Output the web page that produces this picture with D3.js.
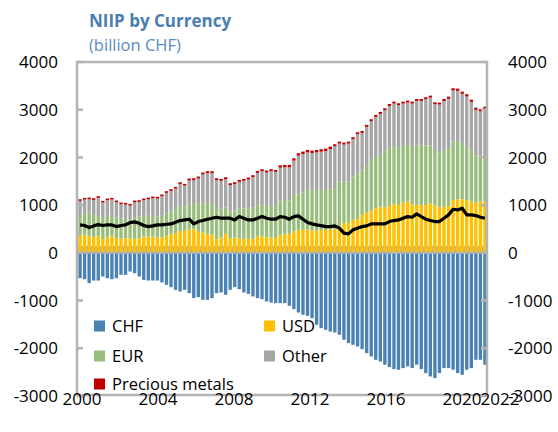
<!DOCTYPE html>
<html>
<head>
<meta charset="utf-8">
<script src="https://cdn.jsdelivr.net/npm/d3@7/dist/d3.min.js"></script>
<style>
  html, body { margin: 0; padding: 0; background: #fff; }
  svg { display: block; font-family: 'Open Sans', 'Noto Sans', sans-serif; }
</style>
</head>
<body>
<svg id="chart" width="558" height="432"></svg>
<script>
// Net international investment position by currency, quarterly, billion CHF
const startYear = 2000;
const nQuarters = 90;
const quarters = [];
for (let i = 0; i < nQuarters; i++) {
  quarters.push((startYear + Math.floor(i / 4)) + "Q" + (i % 4 + 1));
}

const usd = [356,377,356,328,356,286,328,356,307,307,307,300,293,307,342,342,342,321,321,356,391,412,
  461,461,496,496,440,426,398,377,286,321,398,307,321,307,293,293,293,342,356,328,321,314,377,
  398,398,447,482,482,496,468,468,482,482,496,496,565,621,635,691,705,796,845,886,935,970,949,
  984,1026,1005,1054,1075,1019,1005,1005,1005,1040,1005,949,970,984,1110,1124,1124,1110,1075,1054,1075,1075];

const eur = [440,454,489,468,419,440,447,461,440,419,405,405,454,454,433,433,433,440,454,475,475,502,
  523,509,530,530,579,642,642,649,635,600,558,558,565,628,642,635,663,677,649,642,684,691,719,
  712,698,768,768,782,823,837,851,837,837,838,859,929,852,859,908,964,928,977,1062,1096,1103,1194,
  1208,1215,1187,1187,1187,1222,1264,1250,1250,1215,1152,1152,1187,1201,1221,1221,1159,1131,1096,984,942,908];

const other = [293,286,278,314,377,328,328,300,314,293,300,286,314,307,328,348,370,377,412,426,433,433,
  461,440,491,497,540,575,631,645,602,589,589,554,554,554,575,610,631,658,708,714,708,693,690,
  683,697,718,788,808,788,788,788,802,816,843,881,797,797,797,784,818,791,819,812,819,840,847,
  888,888,903,888,888,888,916,930,966,1000,959,1007,1023,1044,1073,1051,1050,1037,995,960,947,1036];

const metals = [35,35,35,35,35,35,35,35,35,35,35,35,35,35,35,35,35,35,35,35,35,35,
  35,35,40,40,40,40,40,40,40,40,40,40,40,40,40,40,40,40,40,40,40,40,50,
  50,50,50,50,50,50,50,50,50,50,50,40,40,40,40,40,40,40,40,40,40,40,40,
  40,40,40,40,40,40,40,40,40,40,40,40,45,45,45,45,45,45,45,45,45,45];

const chf = [-531,-552,-635,-580,-580,-496,-531,-552,-531,-461,-461,-391,-426,-496,-566,-580,-580,-580,-621,-670,-719,-775,
  -810,-775,-845,-949,-928,-984,-984,-949,-845,-831,-880,-775,-719,-761,-831,-859,-914,-949,-970,-1019,-1040,-1054,-1054,
  -1054,-1110,-1180,-1250,-1298,-1320,-1369,-1508,-1578,-1613,-1648,-1669,-1717,-1822,-1892,-1927,-1962,-2017,-2101,-2171,-2241,-2276,-2345,
  -2394,-2436,-2450,-2415,-2380,-2415,-2345,-2436,-2520,-2590,-2625,-2520,-2415,-2415,-2450,-2520,-2555,-2450,-2415,-2241,-2241,-2345];

const niip = [586,573,531,565,593,573,586,586,551,573,586,635,649,621,573,551,565,586,586,600,607,640,
  677,691,705,607,656,677,705,726,747,726,726,726,691,761,726,691,691,726,761,726,705,705,761,
  747,705,761,775,705,635,607,586,572,551,551,565,517,412,398,482,517,551,565,607,607,607,607,
  656,677,691,726,761,747,817,761,705,677,656,656,726,796,914,900,935,796,796,782,747,726];

const yTicks = [-3000,-2000,-1000,0,1000,2000,3000,4000];
const yearTicks = [2000,2004,2008,2012,2016,2020,2022];

const seriesKeys = ["CHF","USD","EUR","Other","Metals"];
const colors = { CHF: "#4a82b4", USD: "#ffc000", EUR: "#99bd7c", Other: "#a6a6a6", Metals: "#c00000" };
const legendItems = [
  { key: "CHF", label: "CHF", col: 0, row: 0 },
  { key: "USD", label: "USD", col: 1, row: 0 },
  { key: "EUR", label: "EUR", col: 0, row: 1 },
  { key: "Other", label: "Other", col: 1, row: 1 },
  { key: "Metals", label: "Precious metals", col: 0, row: 2 }
];

const table = quarters.map((q, i) => ({
  q, CHF: chf[i], USD: usd[i], EUR: eur[i], Other: other[i], Metals: metals[i], NIIP: niip[i]
}));

const svg = d3.select("#chart");
const frame = { left: 77, right: 487, top: 62, bottom: 395 };

const x = d3.scaleBand().domain(quarters).range([frame.left + 1, frame.right]).paddingInner(0.26).paddingOuter(0.08);
const y = d3.scaleLinear().domain([-3000, 4000]).range([396, 62]);
const xYear = d3.scaleLinear().domain([2000, 2022]).range([82, 500]);

const stacked = d3.stack().keys(seriesKeys).offset(d3.stackOffsetDiverging)(table);

const axisGray = "#b4b4b4";

// band behind the bars just above zero
svg.append("rect")
  .attr("x", frame.left).attr("width", frame.right - frame.left)
  .attr("y", y(0) - 7).attr("height", 8)
  .attr("fill", "#b9b2a4");

// stacked bars
svg.append("g").selectAll("g").data(stacked).join("g")
  .attr("fill", d => colors[d.key])
  .selectAll("rect").data(d => d).join("rect")
  .attr("x", d => x(d.data.q))
  .attr("width", x.bandwidth())
  .attr("y", d => y(Math.max(d[0], d[1])))
  .attr("height", d => Math.abs(y(d[0]) - y(d[1])));

// zero line
svg.append("line")
  .attr("x1", frame.left).attr("x2", frame.right)
  .attr("y1", y(0)).attr("y2", y(0))
  .attr("stroke", axisGray).attr("stroke-width", 2);

// total NIIP line
svg.append("path")
  .datum(table)
  .attr("fill", "none")
  .attr("stroke", "#000")
  .attr("stroke-width", 3.2)
  .attr("stroke-linejoin", "round")
  .attr("d", d3.line().x(d => x(d.q) + x.bandwidth() / 2).y(d => y(d.NIIP)));

// plot frame
svg.append("rect")
  .attr("x", frame.left).attr("y", frame.top)
  .attr("width", frame.right - frame.left).attr("height", frame.bottom - frame.top)
  .attr("fill", "none").attr("stroke", axisGray).attr("stroke-width", 2.5);

// inward tick marks on both value axes
const tickG = svg.append("g").attr("stroke", axisGray).attr("stroke-width", 2.5);
yTicks.forEach(t => {
  tickG.append("line").attr("x1", frame.left).attr("x2", frame.left + 6).attr("y1", y(t)).attr("y2", y(t));
  tickG.append("line").attr("x1", frame.right - 6).attr("x2", frame.right).attr("y1", y(t)).attr("y2", y(t));
});

// value labels
const fontSize = 17;
svg.append("g").selectAll("text").data(yTicks).join("text")
  .attr("x", 58).attr("y", d => y(d))
  .attr("text-anchor", "end").attr("dy", "0.36em")
  .attr("font-size", fontSize).attr("fill", "#000")
  .text(d => d);
svg.append("g").selectAll("text").data(yTicks).join("text")
  .attr("x", 508).attr("y", d => y(d))
  .attr("text-anchor", "start").attr("dy", "0.36em")
  .attr("font-size", fontSize).attr("fill", "#000")
  .text(d => d);

// year labels
svg.append("g").selectAll("text").data(yearTicks).join("text")
  .attr("x", d => xYear(d)).attr("y", 405)
  .attr("text-anchor", "middle")
  .attr("font-size", fontSize).attr("fill", "#000")
  .text(d => d);

// legend
const legCols = [94, 264], legRows = [326, 356, 384];
const leg = svg.append("g").selectAll("g").data(legendItems).join("g")
  .attr("transform", d => `translate(${legCols[d.col]},${legRows[d.row]})`);
leg.append("rect").attr("x", 0).attr("y", -5.5).attr("width", 11).attr("height", 11)
  .attr("fill", d => colors[d.key]);
leg.append("text").attr("x", 18).attr("y", 0).attr("dy", "0.36em")
  .attr("font-size", 16.5).attr("fill", "#000")
  .text(d => d.label);

// title
svg.append("text").attr("x", 89).attr("y", 27)
  .attr("font-size", 17).attr("font-weight", "bold").attr("fill", "#4a7eb0")
  .text("NIIP by Currency");
svg.append("text").attr("x", 89).attr("y", 51)
  .attr("font-size", 16.5).attr("fill", "#5a8cc0")
  .text("(billion CHF)");
</script>
</body>
</html>
